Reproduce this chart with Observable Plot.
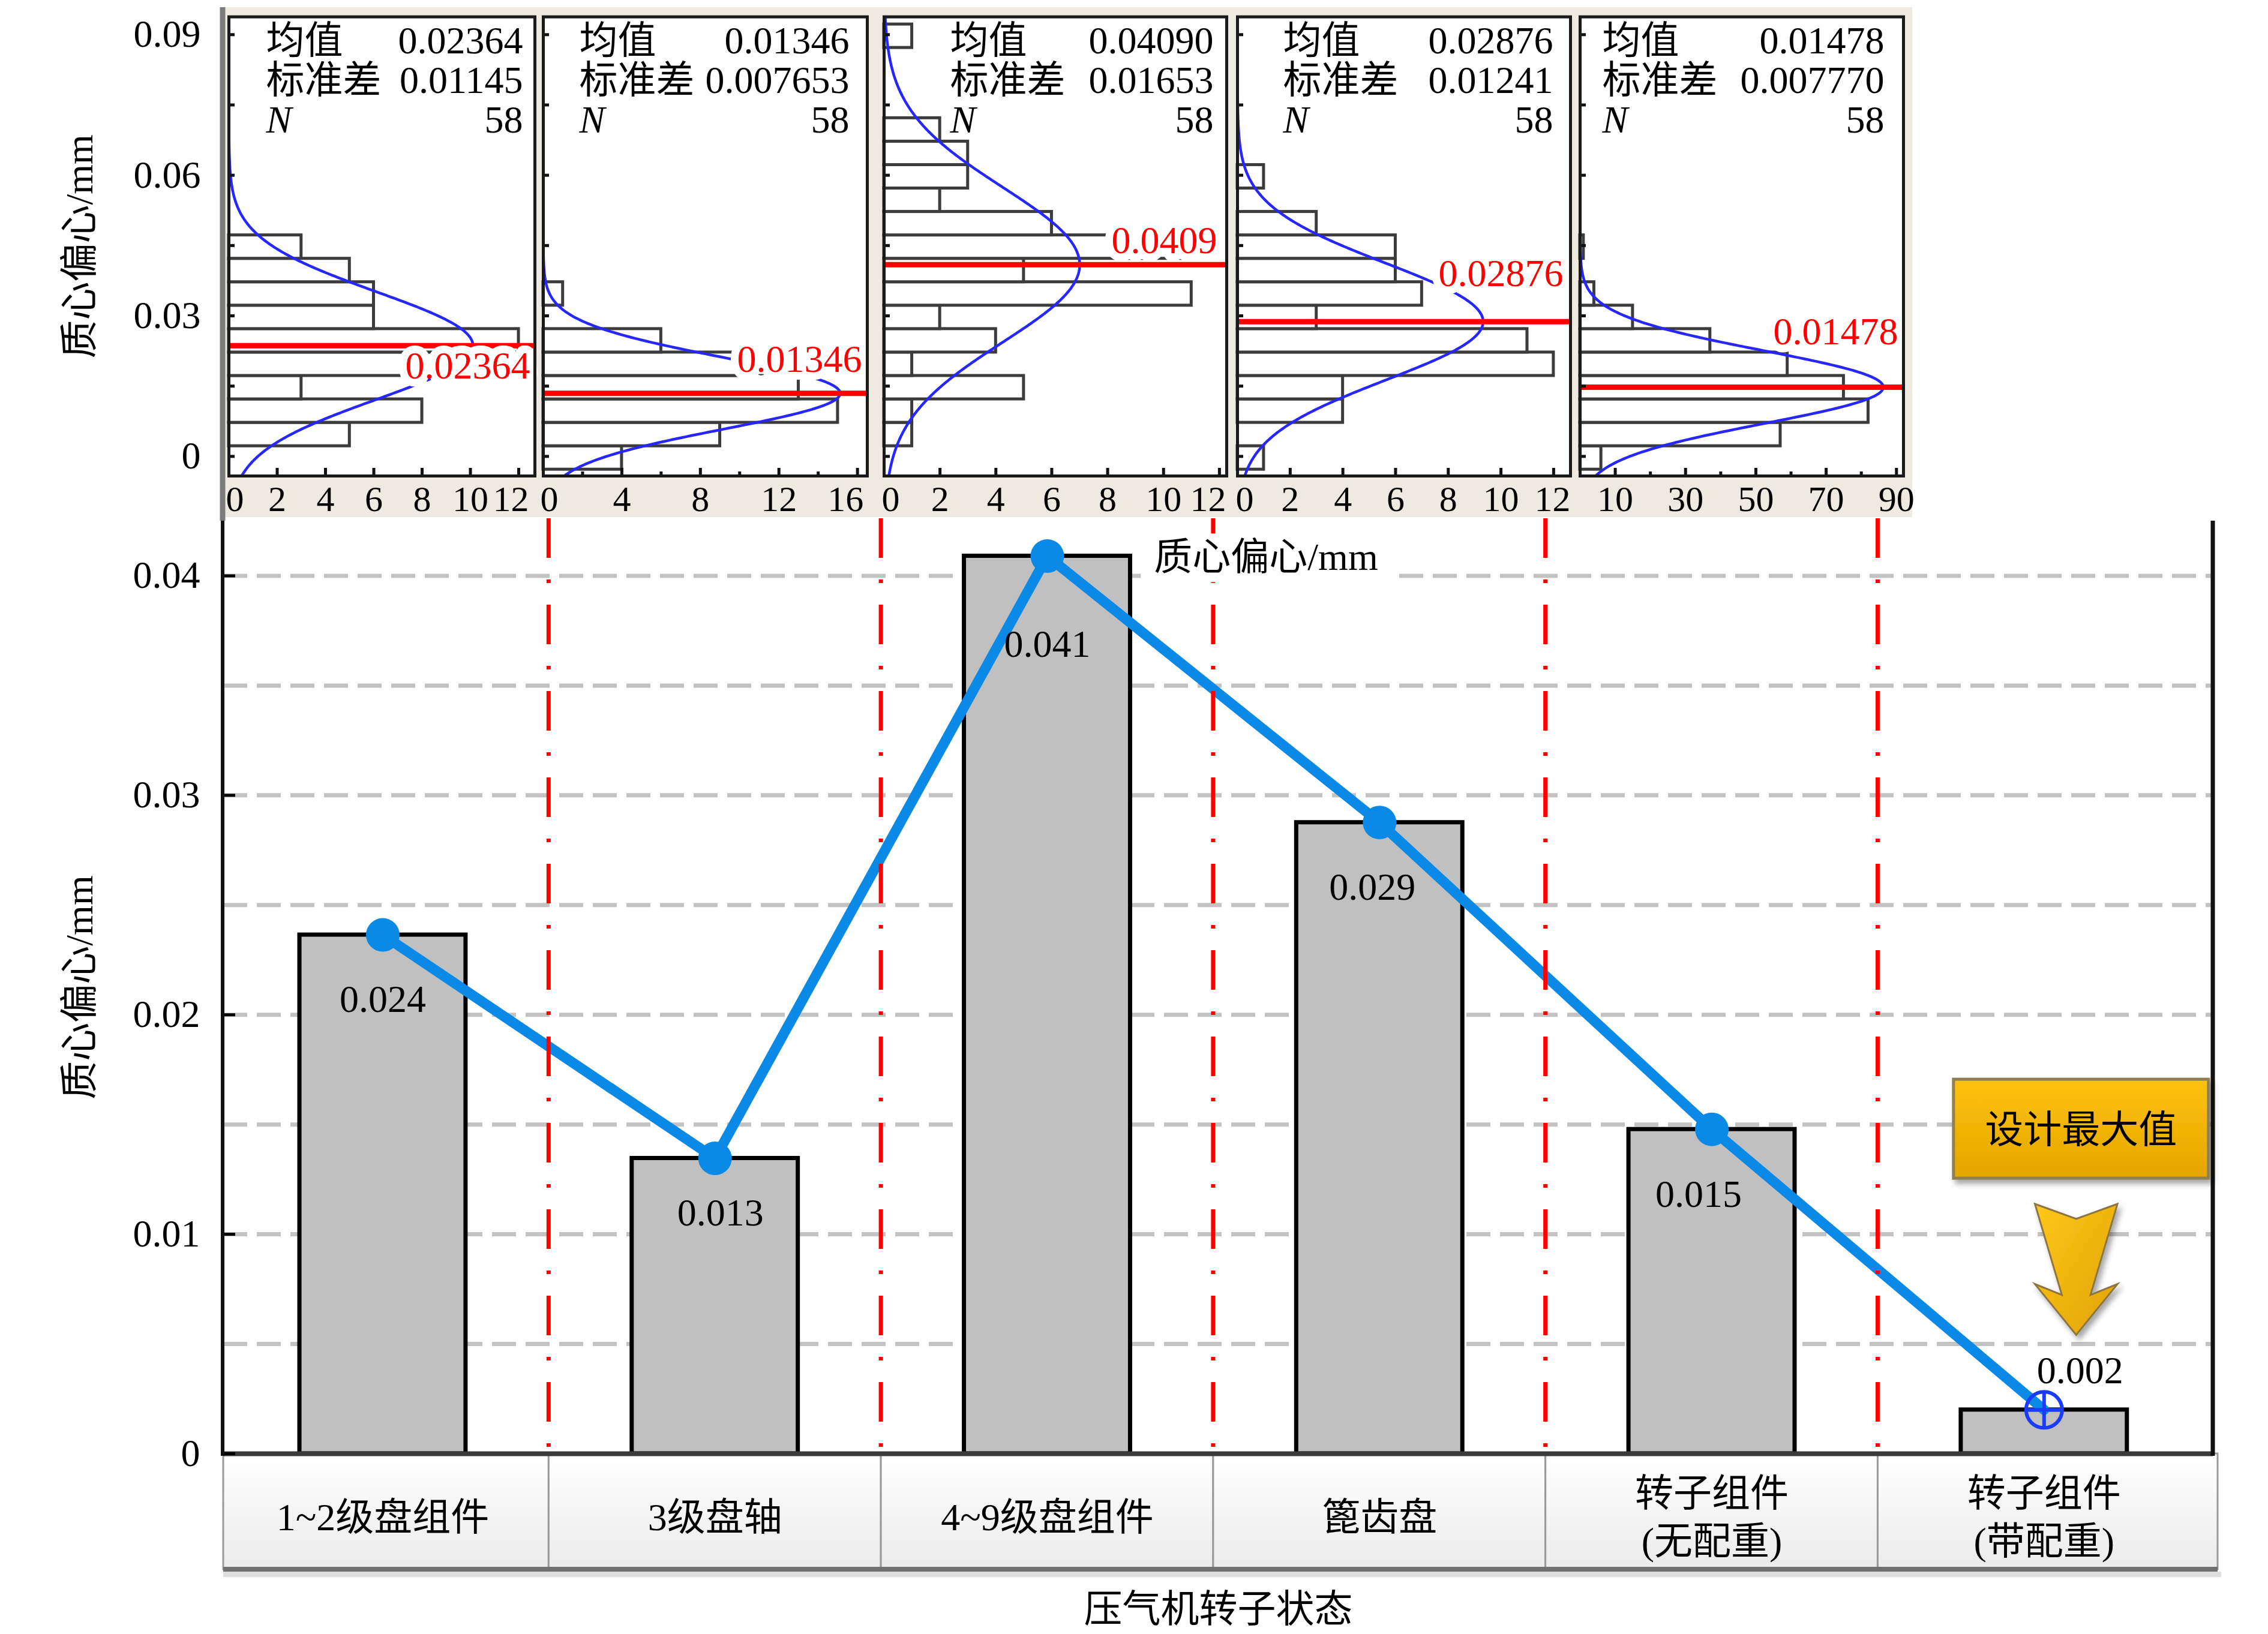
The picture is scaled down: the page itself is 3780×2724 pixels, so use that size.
<!DOCTYPE html>
<html><head><meta charset="utf-8">
<script src="https://cdn.jsdelivr.net/npm/d3@7"></script>
<script src="https://cdn.jsdelivr.net/npm/@observablehq/plot@0.6"></script>
<style>
html,body{margin:0;padding:0;background:#fff;}
#page{position:relative;width:3780px;height:2724px;overflow:hidden;background:#fff;}
#page > div{position:absolute;top:0;}
svg{display:block;}
</style></head><body><div id="page"></div>
<script>
const FONT = "'Liberation Serif','Times New Roman','Noto Sans CJK SC',serif";

// ================= DATA =================
const categories = ["1~2级盘组件","3级盘轴","4~9级盘组件","篦齿盘","转子组件(无配重)","转子组件(带配重)"];
const categoryLabels = ["1~2级盘组件","3级盘轴","4~9级盘组件","篦齿盘","转子组件\n(无配重)","转子组件\n(带配重)"];
const meanValues = [0.02364, 0.01346, 0.04090, 0.02876, 0.01478, 0.002];
const yTicksMain = [0, 0.01, 0.02, 0.03, 0.04];
const gridValues = [0.005, 0.01, 0.015, 0.02, 0.025, 0.03, 0.035, 0.04];
const xTitle = "压气机转子状态";
const yTitle = "质心偏心/mm";
const noteText = "设计最大值";

const histMeans = [0.02364, 0.01346, 0.04090, 0.02876, 0.01478];
const histMeanText = ["0.02364", "0.01346", "0.04090", "0.02876", "0.01478"];
const histMeanLabel = ["0.02364", "0.01346", "0.0409", "0.02876", "0.01478"];
const histSd = [0.01145, 0.007653, 0.01653, 0.01241, 0.007770];
const histSdText = ["0.01145", "0.007653", "0.01653", "0.01241", "0.007770"];
const histNText = ["58", "58", "58", "58", "58"];
const statNames = ["均值", "标准差", "N"];
const binWidth = 0.005;
const binStart = [0.0022, -0.0028, 0.0022, -0.0028, -0.0028];
const counts1 = [5, 8, 3, 10, 12, 6, 6, 5, 3];
const counts2 = [4, 9, 15, 13, 10, 6, 0, 1];
const counts3 = [1, 1, 5, 1, 4, 2, 11, 5, 11, 6, 2, 3, 3, 2, 0, 0, 0, 1];
const counts4 = [1, 0, 4, 4, 12, 11, 3, 7, 6, 6, 3, 0, 1];
const counts5 = [6, 57, 82, 75, 59, 37, 15, 4, 0, 1];
const histCounts = [counts1, counts2, counts3, counts4, counts5];
const histXMax = [12.67, 16.5, 12.26, 12.64, 92];
const histXTickLabels = [[0,2,4,6,8,10,12],[0,4,8,12,16],[0,2,4,6,8,10,12],[0,2,4,6,8,10,12],[10,30,50,70,90]];
const histXMinorTicks = [[],[2,6,10,14],[],[],[20,40,60,80]];
const histYTicks = [0, 0.015, 0.03, 0.045, 0.06, 0.075, 0.09];
const histYTickLabels = [0, 0.03, 0.06, 0.09];
const histYDomain = [-0.00418, 0.0938];

// ================= LAYOUT =================
const M = {top: 868, bottom: 2423, left: 372, right: 3688, W: 3780, H: 2724, boxRight: 3696, boxH: 193};
const HIST = {top: 27.6, bottom: 793, svgH: 875};
const panels = [
  {left: 381,  right: 891,  statL: 62,  statR: 20, meanDx: -8,  meanDy: 34,  firstDx: 10, lastDx: -13},
  {left: 905,  right: 1445, statL: 60,  statR: 30, meanDx: -9,  meanDy: -56, firstDx: 10, lastDx: -20},
  {left: 1473, right: 2044, statL: 110, statR: 22, meanDx: -16, meanDy: -40, firstDx: 11, lastDx: -19},
  {left: 2062, right: 2617, statL: 76,  statR: 29, meanDx: -12, meanDy: -80, firstDx: 12, lastDx: -2},
  {left: 2633, right: 3172, statL: 37,  statR: 32, meanDx: -9,  meanDy: -92, firstDx: 0,  lastDx: 0}
];
const statRowDy = [40, 106, 172];
const labelDy = [108, 91, 147, 108, 109, -65];
const labelDx = [0, 9, 0, -12, -22, 60];
const note = {dx: 62, boxW: 425, boxTop: 0.01705, boxBottom: 0.01254, arrowDx: 54, arrowTop: 0.01137, arrowTip: 0.0054};
const LINE_BLUE = "#0b89e6";
const MARK_BLUE = "#1a3cff";

const fmtTick = d => d === 0 ? "0" : String(d);
const page = document.getElementById("page");

// ================= MAIN CHART =================
const mainData = categories.map((c, i) => ({cat: c, val: meanValues[i], label: d3.format(".3f")(meanValues[i])}));
const plotW = M.right - M.left;

const valueLabels = mainData.map((d, i) => Plot.text([d], {
  x: "cat", y: "val", text: "label", dy: labelDy[i], dx: labelDx[i],
  lineAnchor: "middle", fontSize: 64, fill: "#000"
}));

const mainSvg = Plot.plot({
  width: M.W, height: M.H,
  marginTop: M.top, marginBottom: M.H - M.bottom, marginLeft: M.left, marginRight: M.W - M.right,
  style: {background: "white", fontFamily: FONT, fontSize: "64px", maxWidth: "none", overflow: "visible"},
  x: {type: "band", domain: categories, paddingInner: 0.5, paddingOuter: 0.244, align: 0.47, round: false, axis: null},
  y: {domain: [0, 0.0425]},
  marks: [
    Plot.ruleY(gridValues, {y: d => d, stroke: "#c3c3c3", strokeWidth: 7, strokeDasharray: "40,16"}),
    Plot.barY(mainData, {x: "cat", y: "val", fill: "#c0c0c0", stroke: "#000", strokeWidth: 7}),
    Plot.line(mainData, {x: "cat", y: "val", stroke: LINE_BLUE, strokeWidth: 17, strokeLinejoin: "round", strokeLinecap: "round"}),
    Plot.dot(mainData.slice(0, 5), {x: "cat", y: "val", r: 28, fill: LINE_BLUE}),
    Plot.dot(mainData.slice(5), {x: "cat", y: "val", r: 30, fill: "none", stroke: MARK_BLUE, strokeWidth: 6}),
    Plot.dot(mainData.slice(5), {x: "cat", y: "val", r: 20, symbol: "plus", fill: "none", stroke: MARK_BLUE, strokeWidth: 6}),
    ...valueLabels,
    Plot.ruleY([0], {y: d => d, stroke: "#3a3a3a", strokeWidth: 8}),
    Plot.ruleY(yTicksMain, {y: d => d, insetRight: plotW - 20, stroke: "#000", strokeWidth: 5}),
    Plot.axisY({ticks: yTicksMain, tickSize: 0, tickPadding: 39, tickFormat: fmtTick, fontSize: 64, label: null}),
    Plot.text([yTitle], {frameAnchor: "left", rotate: -90, dx: 133 - M.left, text: d => d, textAnchor: "middle", fontSize: 64, lineAnchor: "middle"}),
    Plot.text(categoryLabels, {x: (d, i) => categories[i], text: d => d, frameAnchor: "bottom", dy: 102, lineAnchor: "middle", lineHeight: 1.25, fontSize: 64}),
    Plot.text([xTitle], {frameAnchor: "bottom", dy: 260, text: d => d, lineAnchor: "middle", fontSize: 64})
  ]
});
const mainWrap = document.createElement("div");
mainWrap.style.left = "0px";
mainWrap.appendChild(mainSvg);
page.appendChild(mainWrap);

(function decorate(svg) {
  const xs = svg.scale("x"), ys = svg.scale("y");
  const s = d3.select(svg);
  const defs = s.append("defs");
  const g1 = defs.append("linearGradient").attr("id", "goldBox").attr("x1", 0).attr("y1", 0).attr("x2", 0).attr("y2", 1);
  g1.append("stop").attr("offset", 0).attr("stop-color", "#ffc20c");
  g1.append("stop").attr("offset", 1).attr("stop-color", "#e3a500");
  const g2 = defs.append("linearGradient").attr("id", "goldArrow").attr("x1", 0).attr("y1", 0).attr("x2", 1).attr("y2", 1);
  g2.append("stop").attr("offset", 0).attr("stop-color", "#ffc71c");
  g2.append("stop").attr("offset", 1).attr("stop-color", "#e0a200");
  const g3 = defs.append("linearGradient").attr("id", "catGrad").attr("x1", 0).attr("y1", 0).attr("x2", 0).attr("y2", 1);
  g3.append("stop").attr("offset", 0).attr("stop-color", "#ffffff");
  g3.append("stop").attr("offset", 1).attr("stop-color", "#ebebeb");
  const f = defs.append("filter").attr("id", "shadow").attr("x", "-20%").attr("y", "-20%").attr("width", "150%").attr("height", "150%");
  f.append("feDropShadow").attr("dx", 5).attr("dy", 7).attr("stdDeviation", 5).attr("flood-color", "#000").attr("flood-opacity", 0.35);

  const gap = (xs.step - xs.bandwidth) / 2;
  const bounds = categories.map(c => xs.apply(c) - gap);
  const edges = [M.left, ...bounds.slice(1), M.boxRight];

  const under = s.insert("g", ":first-child");
  under.append("rect").attr("x", M.left).attr("y", 12).attr("width", 3187 - M.left).attr("height", 862 - 12).attr("fill", "#eeeae1");
  categories.forEach((c, i) => {
    under.append("rect").attr("x", edges[i]).attr("y", M.bottom).attr("width", edges[i + 1] - edges[i]).attr("height", M.boxH)
      .attr("fill", "url(#catGrad)").attr("stroke", "#9a9a9a").attr("stroke-width", 3);
  });
  under.append("rect").attr("x", M.left).attr("y", M.bottom + M.boxH - 4).attr("width", M.boxRight - M.left).attr("height", 8).attr("fill", "#707070");
  under.append("rect").attr("x", M.left).attr("y", M.bottom + M.boxH + 4).attr("width", M.boxRight - M.left + 6).attr("height", 9).attr("fill", "#dedede");

  const over = s.append("g");
  bounds.slice(1).forEach(x => {
    over.append("line").attr("x1", x).attr("x2", x).attr("y1", M.top - 4).attr("y2", M.bottom - 4)
      .attr("stroke", "#ff0000").attr("stroke-width", 7).attr("stroke-dasharray", "66 36 6 36");
  });
  over.append("line").attr("x1", 371).attr("x2", 371).attr("y1", 12).attr("y2", M.top).attr("stroke", "#7c7c7c").attr("stroke-width", 9);
  over.append("line").attr("x1", 371).attr("x2", 371).attr("y1", M.top).attr("y2", M.bottom + 4).attr("stroke", "#111").attr("stroke-width", 6);
  over.append("line").attr("x1", M.right).attr("x2", M.right).attr("y1", M.top).attr("y2", M.bottom + 4).attr("stroke", "#111").attr("stroke-width", 7);

  const tl = over.append("text").attr("x", 2110).attr("y", 928).attr("dy", "0.35em").attr("text-anchor", "middle")
    .attr("font-size", 64).attr("fill", "#000").text(yTitle);
  const bb = tl.node().getBBox();
  over.insert("rect", () => tl.node()).attr("x", bb.x - 22).attr("y", bb.y - 4).attr("width", bb.width + 44).attr("height", bb.height + 10).attr("fill", "#fff");

  const last = categories[categories.length - 1];
  const cx = xs.apply(last) + xs.bandwidth / 2;
  const bx = cx + note.dx, by0 = ys.apply(note.boxTop), by1 = ys.apply(note.boxBottom);
  over.append("rect").attr("x", bx - note.boxW / 2).attr("y", by0).attr("width", note.boxW).attr("height", by1 - by0)
    .attr("fill", "url(#goldBox)").attr("stroke", "#8f7f55").attr("stroke-width", 5).attr("filter", "url(#shadow)");
  over.append("text").attr("x", bx).attr("y", (by0 + by1) / 2).attr("dy", "0.36em").attr("text-anchor", "middle")
    .attr("font-size", 64).attr("fill", "#000").text(noteText);
  const ax = cx + note.arrowDx, ay0 = ys.apply(note.arrowTop), ay1 = ys.apply(note.arrowTip);
  const k = (ay1 - ay0) / 219;
  const shape = [[-69,0],[0,25],[69,0],[24,152],[69,134],[0,219],[-69,134],[-24,152]];
  over.append("path").attr("d", "M" + shape.map(([px, py]) => (ax + px * k) + "," + (ay0 + py * k)).join("L") + "Z")
    .attr("fill", "url(#goldArrow)").attr("stroke", "#8c7440").attr("stroke-width", 3).attr("stroke-linejoin", "miter").attr("filter", "url(#shadow)");
})(mainSvg);

// ================= HISTOGRAMS =================
function makeHist(k) {
  const P = panels[k];
  const padL = k === 0 ? P.left : 12, padR = 14;
  const pw = P.right - P.left, ph = HIST.bottom - HIST.top;
  const counts = histCounts[k];
  const bins = counts.map((c, i) => ({lo: binStart[k] + i * binWidth, hi: binStart[k] + (i + 1) * binWidth, count: c}))
    .filter(d => d.count > 0);
  const total = d3.sum(counts);
  const mu = histMeans[k], sd = histSd[k];
  const ysamp = d3.range(histYDomain[0], histYDomain[1], 0.0002).concat([histYDomain[1]]);
  const curve = ysamp.map(y => ({y, x: total * binWidth * Math.exp(-0.5 * ((y - mu) / sd) ** 2) / (sd * Math.sqrt(2 * Math.PI))}));
  const statVals = [histMeanText[k], histSdText[k], histNText[k]];
  const tks = histXTickLabels[k];
  const tickText = (arr, dx) => Plot.text(arr, {x: d => d, text: d => String(d), frameAnchor: "bottom", textAnchor: "middle",
    dy: 16, dx, lineAnchor: "top", fontSize: 60, fill: "#000"});
  const marks = [
    Plot.frame({fill: "white"}),
    Plot.rect(bins, {x1: 0, x2: "count", y1: "lo", y2: "hi", fill: "white", stroke: "#3c3c3c", strokeWidth: 5}),
    Plot.line(curve, {x: "x", y: "y", stroke: "#2626ff", strokeWidth: 4.5}),
    Plot.ruleY([mu], {y: d => d, stroke: "#ff0000", strokeWidth: 9}),
    Plot.text([histMeanLabel[k]], {y: () => mu, text: d => d, frameAnchor: "right", textAnchor: "end",
      dx: P.meanDx, dy: P.meanDy, lineAnchor: "middle", fill: "#ff0000", stroke: "white", strokeWidth: 26,
      strokeLinejoin: "round", paintOrder: "stroke", fontSize: 64}),
    ...statNames.map((n, r) => Plot.text([n], {text: d => d, frameAnchor: "top-left", textAnchor: "start", dx: P.statL, dy: statRowDy[r],
      lineAnchor: "middle", fontSize: 64, fontStyle: r === 2 ? "italic" : "normal", fill: "#000"})),
    ...statVals.map((v, r) => Plot.text([v], {text: d => d, frameAnchor: "top-right", textAnchor: "end", dx: -P.statR, dy: statRowDy[r],
      lineAnchor: "middle", fontSize: 64, fill: "#000"})),
    Plot.ruleX(tks, {x: d => d, insetTop: ph - 13, stroke: "#111", strokeWidth: 5}),
    Plot.ruleX(histXMinorTicks[k], {x: d => d, insetTop: ph - 7, stroke: "#111", strokeWidth: 5}),
    Plot.ruleY(histYTicks, {y: d => d, insetRight: pw - 10, stroke: "#111", strokeWidth: 5}),
    tickText(tks.slice(0, 1), P.firstDx),
    tickText(tks.slice(1, -1), 0),
    tickText(tks.slice(-1), P.lastDx),
    Plot.frame({stroke: "#1a1a1a", strokeWidth: 5})
  ];
  if (k === 0) {
    marks.push(Plot.axisY({ticks: histYTickLabels, tickSize: 0, tickPadding: 47, tickFormat: fmtTick, fontSize: 64, label: null}));
    marks.push(Plot.text([yTitle], {text: d => d, frameAnchor: "left", rotate: -90, dx: 133 - P.left, textAnchor: "middle", lineAnchor: "middle", fontSize: 64}));
  }
  const svg = Plot.plot({
    width: pw + padL + padR, height: HIST.svgH,
    marginTop: HIST.top, marginBottom: HIST.svgH - HIST.bottom, marginLeft: padL, marginRight: padR,
    style: {background: "transparent", fontFamily: FONT, fontSize: "64px", maxWidth: "none", overflow: "visible"},
    x: {domain: [0, histXMax[k]], axis: null},
    y: k === 0 ? {domain: histYDomain} : {domain: histYDomain, axis: null},
    marks
  });
  const wrap = document.createElement("div");
  wrap.style.left = (P.left - padL) + "px";
  wrap.appendChild(svg);
  page.appendChild(wrap);
}
for (let k = 0; k < 5; k++) makeHist(k);
</script></body></html>
